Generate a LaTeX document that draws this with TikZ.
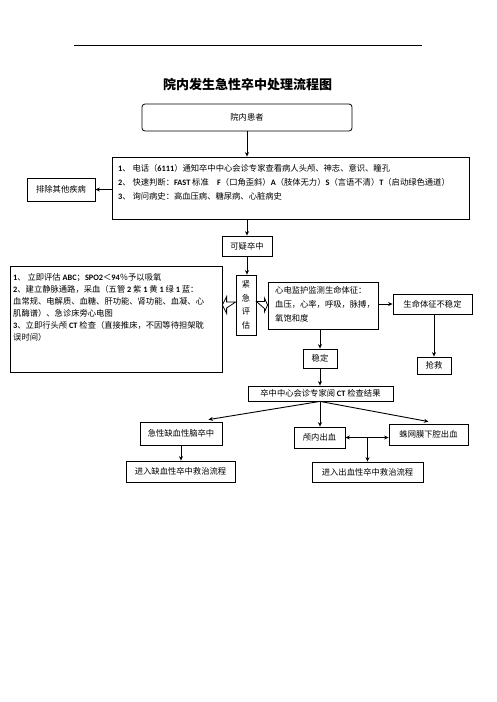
\documentclass[tikz,border=0pt]{standalone}
\usepackage{fontspec}
\setmainfont{Noto Sans CJK SC}
\newfontfamily\latf{Carlito}
\newcommand\lat[1]{{\latf\bfseries #1}}
\usetikzlibrary{arrows.meta,calc}
\begin{document}
\begin{tikzpicture}[x=1pt,y=-1pt,
  box/.style={draw,line width=0.8pt,inner sep=0pt,font=\fontsize{8.3}{10}\selectfont},
  txt/.style={inner sep=0pt,align=left,anchor=north west},
  arr/.style={line width=0.9pt,-{Stealth[length=4.5pt,width=4pt]}},
  darr/.style={line width=0.9pt,{Stealth[length=4.5pt,width=4pt]}-{Stealth[length=4.5pt,width=4pt]}},
  hollow/.style={draw,fill=white,line width=0.8pt,line join=miter}]
\useasboundingbox (0,0) rectangle (496,702);
\draw[line width=0.8pt] (74,45) -- (422,45);
\node[font=\fontsize{13}{15}\selectfont\bfseries] (title) at (247.5,85) {院内发生急性卒中处理流程图};

\node[box,rounded corners=3pt,minimum width=210,minimum height=27] (p1) at (247,117.5) {院内患者};
\node[box,minimum width=357,minimum height=62] (b2) at (290.5,188) {};
\node[txt,font=\fontsize{8.3}{14}\selectfont] (b2t) at (118,164.5) {\lat{1}、 电话（\lat{6111}）通知卒中中心会诊专家查看病人头颅、神志、意识、瞳孔\\
\lat{2}、 快速判断：\lat{FAST} 标准\quad \lat{F}（口角歪斜）\lat{A}（肢体无力）\lat{S}（言语不清）\lat{T}（启动绿色通道）\\
\lat{3}、 询问病史：高血压病、糖尿病、心脏病史};
\node[box,minimum width=68,minimum height=23] (exc) at (61,189.5) {排除其他疾病};
\node[box,minimum width=50,minimum height=20] (susp) at (247,246) {可疑卒中};
\node[box,minimum width=20,minimum height=60,align=center,font=\fontsize{8.3}{13.5}\selectfont] (emg) at (246,305) {紧\\急\\评\\估};
\node[box,minimum width=212,minimum height=106] (left) at (116,319) {};
\node[txt,font=\fontsize{8.3}{12}\selectfont] (leftt) at (13,273) {\lat{1}、 立即评估 \lat{ABC}；\lat{SPO2}＜\lat{94}％予以吸氧\\
\lat{2}、建立静脉通路，采血（五管 \lat{2} 紫 \lat{1} 黄 \lat{1} 绿 \lat{1} 蓝：\\
血常规、电解质、血糖、肝功能、肾功能、血凝、心\\
肌酶谱）、急诊床旁心电图\\
\lat{3}、立即行头颅 \lat{CT} 检查（直接推床，不因等待担架耽\\
误时间）};
\node[box,minimum width=110,minimum height=47] (ecg) at (323,305.5) {};
\node[txt,font=\fontsize{8.3}{14}\selectfont] (ecgt) at (275,286) {心电监护监测生命体征：\\血压，心率，呼吸，脉搏，\\氧饱和度};
\node[box,minimum width=79,minimum height=20] (unst) at (432.5,304) {生命体征不稳定};
\node[box,minimum width=34,minimum height=17] (rescue) at (434,365.5) {抢救};
\node[box,minimum width=34,minimum height=19] (stable) at (320,358.5) {稳定};
\node[box,minimum width=145,minimum height=15] (ct) at (320.5,393.5) {卒中中心会诊专家阅 \lat{CT} 检查结果};
\node[box,minimum width=82,minimum height=23] (isch) at (181,433.5) {急性缺血性脑卒中};
\node[box,minimum width=51,minimum height=21] (ich) at (319.5,437.5) {颅内出血};
\node[box,minimum width=79,minimum height=21] (sah) at (428.5,434.5) {蛛网膜下腔出血};
\node[box,minimum width=109,minimum height=21] (ischflow) at (180.5,471.5) {进入缺血性卒中救治流程};
\node[box,minimum width=111,minimum height=20] (hem) at (367.5,472) {进入出血性卒中救治流程};

% connectors
\draw[arr] (p1.south) -- (b2.north -| p1.south);
\draw[arr] (b2.west |- exc.east) -- (exc.east);
\draw[arr] (b2.south -| susp.north) -- (susp.north);
\draw[arr] (susp.south) -- (emg.north -| susp.south);
\draw[hollow] ($(emg.west)+(0,-3)$) -- ++(-9,0) -- ++(0,-5.5) -- (left.east |- emg.west)
  -- ($(emg.west)+(-9,8.5)$) -- ++(0,-5.5) -- cycle;
\draw[hollow] ($(emg.east)+(0,-3.5)$) -- ++(8,0) -- ++(0,-3.5) -- (ecg.west |- emg.east)
  -- ($(emg.east)+(8,7)$) -- ++(0,-3.5) -- cycle;
\draw[arr] (ecg.east |- unst.west) -- (unst.west);
\draw[arr] (unst.south -| rescue.north) -- (rescue.north);
\draw[arr] (ecg.south -| stable.north) -- (stable.north);
\draw[arr] (stable.south) -- (ct.north -| stable.south);
\coordinate (ctb) at (ct.south -| stable.south);
\coordinate (ischt) at ($(isch.north east)+(-14,-2)$);
\coordinate (saht) at ($(sah.north)+(0,-2)$);
\draw[arr] (ctb) -- (ischt);
\draw[arr] (ctb) -- (ich.north -| ctb);
\draw[arr] (ctb) -- (saht);
\draw[darr] (ich.east) -- (sah.west |- ich.east);
\coordinate (mid) at (hem.north |- ich.east);
\draw[arr] (mid) -- (hem.north);
\draw[arr] (isch.south) -- (ischflow.north -| isch.south);
\end{tikzpicture}
\end{document}
